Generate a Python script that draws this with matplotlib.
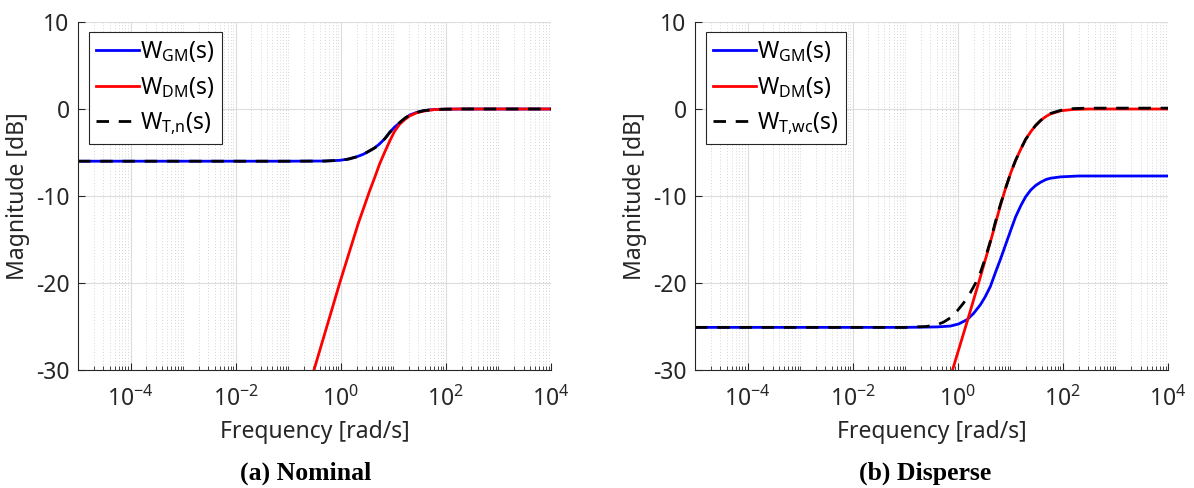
import numpy as np
import matplotlib
matplotlib.use("Agg")
import matplotlib.pyplot as plt
from matplotlib.ticker import FixedLocator, LogLocator, NullFormatter

plt.rcParams['font.family'] = ['Noto Sans', 'DejaVu Sans']
plt.rcParams['mathtext.fontset'] = 'custom'
plt.rcParams['mathtext.rm'] = 'Noto Sans'
plt.rcParams['mathtext.default'] = 'regular'
plt.rcParams['axes.unicode_minus'] = False

# ---- data (log10 of frequency, magnitude in dB) ----
# (a) nominal
nom_gm_logw = [-5, -1.0, -0.3, -0.02, 0.15, 0.30, 0.43, 0.55, 0.65, 0.74, 0.84, 0.93, 1.02, 1.12, 1.22, 1.31, 1.44, 1.57, 1.7, 1.82, 2.0, 2.3, 4]
nom_gm_db = [-6.0, -6.0, -5.98, -5.9, -5.75, -5.5, -5.2, -4.8, -4.45, -4.0, -3.4, -2.7, -2.1, -1.6, -1.1, -0.7, -0.4, -0.2, -0.1, -0.05, -0.02, 0.0, 0.0]
nom_dm_logw = [-0.51, -0.02, 0.33, 0.55, 0.65, 0.74, 0.84, 0.93, 1.02, 1.12, 1.22, 1.31, 1.44, 1.57, 1.7, 1.82, 2.0, 2.3, 4]
nom_dm_db = [-30.0, -20.0, -13.2, -9.4, -7.8, -6.3, -4.9, -3.7, -2.6, -1.75, -1.2, -0.8, -0.45, -0.25, -0.12, -0.05, -0.02, 0.0, 0.0]
nom_t_logw = [-5, -1.0, -0.3, -0.02, 0.15, 0.30, 0.43, 0.55, 0.65, 0.74, 0.84, 0.93, 1.02, 1.12, 1.22, 1.31, 1.44, 1.57, 1.7, 1.82, 2.0, 2.3, 4]
nom_t_db = [-6.0, -6.0, -5.98, -5.9, -5.75, -5.5, -5.2, -4.8, -4.45, -4.0, -3.4, -2.7, -2.1, -1.55, -1.05, -0.7, -0.4, -0.2, -0.1, -0.05, -0.02, 0.0, 0.0]

# (b) disperse
dis_gm_logw = [-5, -1.0, -0.4, -0.14, 0.02, 0.18, 0.30, 0.43, 0.52, 0.62, 0.71, 0.81, 0.91, 1.01, 1.10, 1.20, 1.29, 1.39, 1.48, 1.58, 1.68, 1.77, 1.96, 2.3, 4]
dis_gm_db = [-25.1, -25.1, -25.05, -24.95, -24.7, -24.2, -23.5, -22.5, -21.6, -20.4, -18.9, -17.3, -15.6, -13.9, -12.4, -11.1, -10.1, -9.3, -8.8, -8.4, -8.1, -7.95, -7.8, -7.7, -7.7]
dis_dm_logw = [-0.10, 0.18, 0.43, 0.62, 0.81, 0.91, 1.01, 1.10, 1.20, 1.29, 1.39, 1.48, 1.58, 1.68, 1.77, 1.96, 2.2, 2.5, 4]
dis_dm_db = [-30.0, -24.4, -19.3, -15.3, -11.1, -9.1, -7.3, -5.9, -4.6, -3.5, -2.6, -1.9, -1.3, -0.85, -0.55, -0.2, -0.05, 0.0, 0.0]
dis_t_logw = [-5, -1.0, -0.6, -0.4, -0.27, -0.14, -0.01, 0.11, 0.24, 0.34, 0.43, 0.52, 0.62, 0.71, 0.81, 0.91, 1.01, 1.10, 1.20, 1.29, 1.39, 1.48, 1.58, 1.68, 1.77, 1.96, 2.2, 2.5, 4]
dis_t_db = [-25.1, -25.1, -25.0, -24.8, -24.5, -24.0, -23.2, -22.3, -21.1, -20.0, -18.8, -17.2, -15.2, -13.1, -11.0, -9.1, -7.3, -5.9, -4.6, -3.5, -2.6, -1.9, -1.3, -0.8, -0.5, -0.15, 0.05, 0.1, 0.1]

labels_a = ['W$_{GM}$(s)', 'W$_{DM}$(s)', 'W$_{T{,}n}$(s)']
labels_b = ['W$_{GM}$(s)', 'W$_{DM}$(s)', 'W$_{T{,}wc}$(s)']
captions = ['(a) Nominal', '(b) Disperse']

TXT = '#262626'
FS = 16.5

fig = plt.figure(figsize=(11.94, 4.88), dpi=100)
ax1 = fig.add_axes([78 / 1194, 1 - 370 / 488, 473 / 1194, 348 / 488])
ax2 = fig.add_axes([695 / 1194, 1 - 370 / 488, 473 / 1194, 348 / 488])

sets = [
    (ax1, nom_gm_logw, nom_gm_db, nom_dm_logw, nom_dm_db, nom_t_logw, nom_t_db, labels_a),
    (ax2, dis_gm_logw, dis_gm_db, dis_dm_logw, dis_dm_db, dis_t_logw, dis_t_db, labels_b),
]

for ax, gx, gy, dx, dy, tx, ty, labs in sets:
    ax.plot(10 ** np.array(gx), gy, color='#0000ff', lw=2, label=labs[0])
    ax.plot(10 ** np.array(dx), dy, color='#ff0000', lw=2, label=labs[1])
    ax.plot(10 ** np.array(tx), ty, color='black', lw=2, ls=(0, (4.5, 3.5)), label=labs[2])
    ax.set_xscale('log')
    ax.set_xlim(1e-5, 1e4)
    ax.set_ylim(-30, 10)
    ax.set_yticks([-30, -20, -10, 0, 10])
    ax.set_yticklabels(['-30', '-20', '-10', '0', '10'])
    ax.xaxis.set_major_locator(FixedLocator([1e-4, 1e-2, 1e0, 1e2, 1e4]))
    ax.set_xticklabels(['$10^{-4}$', '$10^{-2}$', '$10^{0}$', '$10^{2}$', '$10^{4}$'])
    ax.xaxis.set_minor_locator(LogLocator(base=10, subs=np.arange(1, 10), numticks=40))
    ax.xaxis.set_minor_formatter(NullFormatter())
    ax.grid(True, which='major', color='#dcdcdc', lw=0.8)
    ax.grid(True, which='minor', axis='x', color='#c8c8c8', lw=0.6, ls=(0, (1, 2.5)))
    ax.set_axisbelow(True)
    for s in ['top', 'right']:
        ax.spines[s].set_visible(False)
    for s in ['left', 'bottom']:
        ax.spines[s].set_color(TXT)
        ax.spines[s].set_linewidth(0.8)
    ax.tick_params(which='major', direction='in', length=5, width=0.8, colors=TXT, labelsize=FS)
    ax.tick_params(axis='y', which='major', pad=6)
    ax.tick_params(axis='x', which='major', pad=12)
    ax.tick_params(which='minor', direction='in', length=3, width=0.6, colors=TXT)
    ax.tick_params(axis='y', which='both', right=False)
    ax.tick_params(axis='x', which='both', top=False)
    ax.set_xlabel('Frequency [rad/s]', fontsize=FS, color=TXT, labelpad=6)
    ax.set_ylabel('Magnitude [dB]', fontsize=FS, color=TXT, labelpad=4)
    leg = ax.legend(loc='upper left', bbox_to_anchor=(0.023, 0.97), fontsize=FS,
                    fancybox=False, framealpha=1, edgecolor=TXT, handlelength=1.9,
                    handletextpad=0.05, labelspacing=0.45, borderpad=0.3, borderaxespad=0)
    leg.get_frame().set_linewidth(0.8)
    for t in leg.get_texts():
        t.set_color('black')

fig.text(306 / 1194, 1 - 473 / 488, captions[0], ha='center', va='center',
         fontsize=18.5, fontweight='bold', family='Liberation Serif')
fig.text(925 / 1194, 1 - 473 / 488, captions[1], ha='center', va='center',
         fontsize=18.5, fontweight='bold', family='Liberation Serif')

fig.savefig('out.png', dpi=100)
